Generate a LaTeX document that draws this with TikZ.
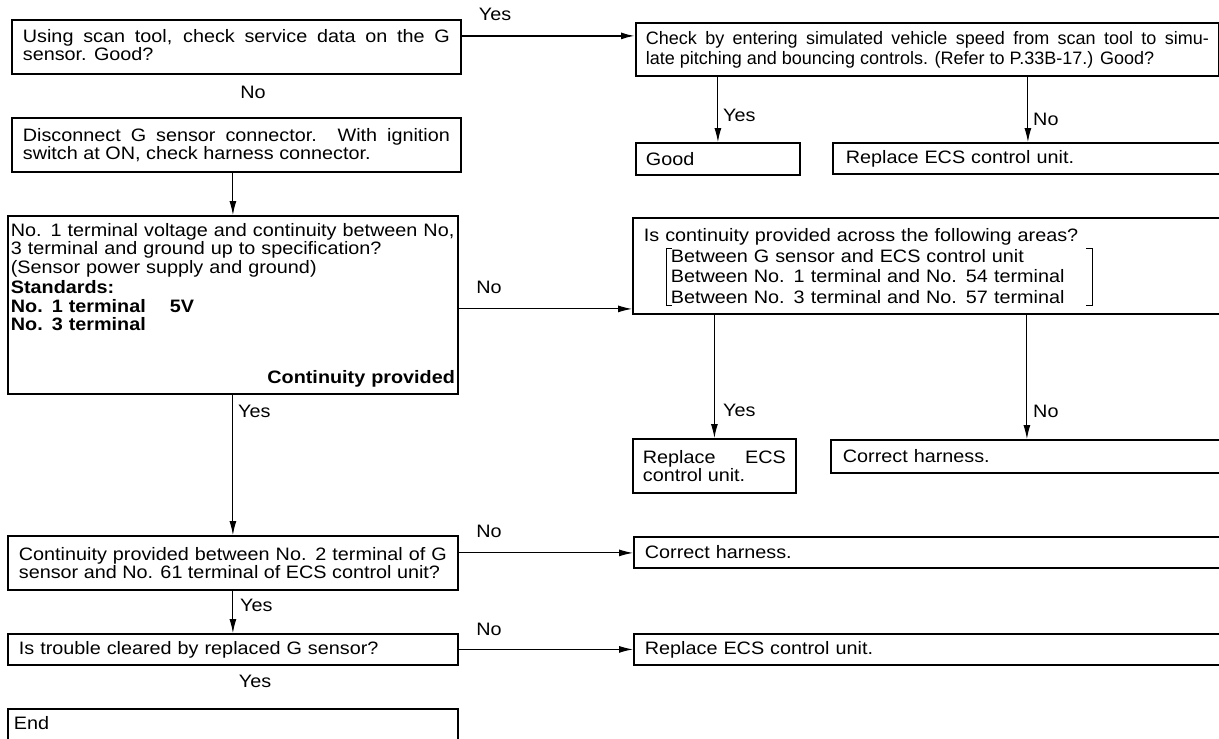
\documentclass[tikz,border=0pt]{standalone}
\usepackage{fontspec}
\setmainfont[FakeStretch=1.1]{Liberation Sans}
\newfontfamily\narrowfont[FakeStretch=1.0]{Liberation Sans}
\usetikzlibrary{arrows.meta,positioning,calc}
\tolerance=9999 \hbadness=10000
\tikzset{box/.style={draw,line width=1.8pt,anchor=north west,inner xsep=11pt,inner ysep=2pt,align=justify},
 arr/.style={-{Latex[length=14pt,width=7pt]},line width=1pt},
 lab/.style={inner sep=0pt},
 brk/.style={line width=0.9pt}}
\begin{document}
\begin{tikzpicture}[x=1pt,y=-1pt,font=\fontsize{18}{18.5}\selectfont]
\useasboundingbox (0,0) rectangle (1219,739);
\clip (0,0) rectangle (1219,739);
% left column
\node[box,text width=427pt,minimum height=54pt](b1) at (11,19)
 {Using scan tool, check service data on the G\linebreak sensor. Good?\vspace*{4pt}};
\node[box,text width=427pt,minimum height=54pt](b2) at (11,117)
 {Disconnect G sensor connector. With ignition\linebreak switch at ON, check harness connector.};
\node[box,align=left,inner xsep=3pt,text width=444pt,minimum height=178pt](b3) at (7,215)
 {No. 1 terminal voltage and continuity between No,\\
  3 terminal and ground up to specification?\\
  (Sensor power supply and ground)\\[2pt]
  \textbf{Standards:}\\
  \textbf{No. 1 terminal\hspace{24pt}5V}\\
  \textbf{No. 3 terminal}\\[34pt]
  \hspace*{\fill}\textbf{Continuity provided}\hspace*{7pt}};
\node[box,text width=428pt,minimum height=54pt](b4) at (7,535)
 {\parfillskip=0pt Continuity provided between No. 2 terminal of G\linebreak sensor and No. 61 terminal of ECS control unit?};
\node[box,align=left,text width=428pt,minimum height=31pt](b5) at (7,633)
 {Is trouble cleared by replaced G sensor?};
\node[box,align=left,inner xsep=6pt,inner ysep=8pt,text width=438pt,text height=13pt,text depth=30pt](b6) at (7,708)
 {End};
% right column
\node[box,inner xsep=10pt,text width=563pt,minimum height=53pt,font={\narrowfont\fontsize{18}{20}\selectfont}](b7) at (635,22)
 {\parfillskip=0pt Check by entering simulated vehicle speed from scan tool to simu-\linebreak late pitching and bouncing controls. (Refer to P.33B-17.) Good?};
\node[box,align=left,inner xsep=10pt,text width=144pt,minimum height=32pt](good) at (635,142) {Good};
\node[box,align=left,inner xsep=13pt,text width=364pt,minimum height=31pt](rep1) at (832,142)
 {Replace ECS control unit.};
\node[box,align=left,text width=568pt,minimum height=96pt](b8) at (632,217)
 {Is continuity provided across the following areas?\\[3pt]
  \hspace*{27pt}Between G sensor and ECS control unit\\[1pt]
  \hspace*{27pt}Between No. 1 terminal and No. 54 terminal\\[3pt]
  \hspace*{27pt}Between No. 3 terminal and No. 57 terminal};
\node[box,inner xsep=10pt,text width=143pt,minimum height=54pt](rep2) at (632,438)
 {Replace ECS\linebreak control unit.};
\node[box,align=left,inner xsep=12pt,text width=368pt,minimum height=33pt](corr1) at (830,439)
 {Correct harness.};
\node[box,align=left,text width=567pt,minimum height=31pt](b9) at (633,536)
 {Correct harness.};
\node[box,align=left,text width=567pt,minimum height=31pt](b10) at (633,633)
 {Replace ECS control unit.};
% brackets
\draw[brk] ($(b8.north west)+(40,31)$) -- ++(-6,0) -- ++(0,57) -- ++(6,0);
\draw[brk] ($(b8.north west)+(454,31)$) -- ++(6,0) -- ++(0,57) -- ++(-6,0);
% connectors
\draw[arr,line width=1.8pt] ([yshift=11pt]b1.east) -- ([yshift=11pt]b1.east -| b7.west);
\draw[arr] (b2.south -| b3.north) -- (b3.north);
\draw[arr] ([yshift=-4pt]b3.east) -- ([yshift=-4pt]b3.east -| b8.west);
\draw[arr] (b3.south) -- (b4.north);
\draw[arr] ([yshift=10pt]b4.east) -- ([yshift=10pt]b4.east -| b9.west);
\draw[arr] (b4.south) -- (b5.north);
\draw[arr] (b5.east) -- (b5.east -| b10.west);
\draw[arr] (b7.south -| good.north) -- (good.north);
\draw[arr] (b7.south -| rep1.north) -- (rep1.north);
\draw[arr] (b8.south -| rep2.north) -- (rep2.north);
\draw[arr] (b8.south -| corr1.north) -- (corr1.north);
% labels
\node[lab](y1) at (495,14) {Yes};
\node[lab](n1) at (253,92) {No};
\node[lab,anchor=west](y2) at (238,411) {Yes};
\node[lab](n2) at (489,287) {No};
\node[lab](n3) at (489,531) {No};
\node[lab,anchor=west](y3) at (240,605) {Yes};
\node[lab](n4) at (489,629) {No};
\node[lab](y4) at (255,681) {Yes};
\node[lab,anchor=west](y5) at (723,115) {Yes};
\node[lab,anchor=west](n5) at (1033,119) {No};
\node[lab,anchor=west](y6) at (723,410) {Yes};
\node[lab,anchor=west](n6) at (1033,411) {No};
\end{tikzpicture}
\end{document}
